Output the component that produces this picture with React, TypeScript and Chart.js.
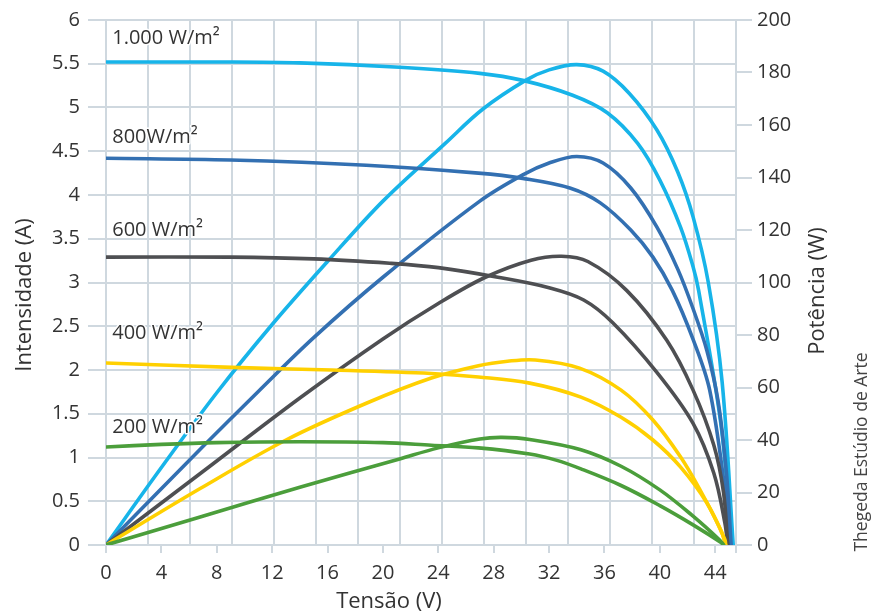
import React, { useEffect, useRef } from "react";
import { Chart, registerables } from "chart.js";

Chart.register(...registerables);

// ---- Data (V = tensão, A = intensidade, W = potência) ----
const xTicks = [0, 4, 8, 12, 16, 20, 24, 28, 32, 36, 40, 44];
const xMax = 45.5;
const ampMax = 6;
const ampStep = 0.5;
const wattMax = 200;
const wattStep = 20;
const gridColumns = 15;

// 1.000 W/m²
const v1000I = [0, 8, 14, 21.2, 27, 30.1, 33.7, 36.2, 38.4, 40.0, 41.5, 42.4, 42.8, 44.4, 45.2];
const a1000 = [5.52, 5.52, 5.51, 5.46, 5.39, 5.31, 5.14, 4.94, 4.59, 4.17, 3.63, 3.18, 2.91, 1.39, 0];
const v1000P = [0, 4, 8, 12, 16, 20, 24.5, 27.2, 30.3, 32, 34, 35.9, 37.8, 39.8, 41.3, 42.4, 43.5, 44.5, 45.3];
const w1000 = [0, 29.5, 58, 84, 108, 131, 153, 166, 177, 181, 183, 180.5, 172, 158, 142, 125, 100, 62, 0];

// 800 W/m²
const v800I = [0, 9, 18.8, 26.9, 30.1, 33.5, 35.7, 37.9, 39.5, 40.9, 42.4, 43.6, 44.7, 45.1];
const a800 = [4.42, 4.4, 4.34, 4.25, 4.19, 4.08, 3.91, 3.6, 3.29, 2.91, 2.35, 1.77, 0.63, 0];
const v800P = [0, 7, 11, 15, 20, 27, 30.1, 32, 34, 35.9, 37.9, 39.8, 41.3, 42.4, 43.4, 44.2, 44.8, 45.15];
const w800 = [0, 37.5, 58.5, 79, 102, 131, 141, 145.5, 148, 145.5, 136, 121, 105, 90, 74, 55, 28, 0];

// 600 W/m²
const v600I = [0, 9, 15, 20.5, 24, 28.3, 32, 34.5, 36.6, 39.8, 42.4, 43.9, 44.7, 44.9];
const a600 = [3.29, 3.29, 3.27, 3.22, 3.17, 3.06, 2.94, 2.8, 2.54, 1.97, 1.39, 0.82, 0.25, 0];
const v600P = [0, 7, 14, 20, 24, 27.4, 30.7, 32.9, 34.8, 37.6, 40.5, 42.4, 43.9, 44.6, 44.9];
const w600 = [0, 28, 56, 78.5, 92, 102, 108.5, 110, 108, 97, 78, 59, 38, 20, 0];

// 400 W/m²
const v400I = [0, 9.1, 16.3, 23.5, 26.9, 30.6, 34.3, 37.2, 39.5, 41.5, 43.4, 44.7, 44.75];
const a400 = [2.08, 2.03, 2.0, 1.96, 1.92, 1.85, 1.69, 1.46, 1.2, 0.89, 0.48, 0.06, 0];
const v400P = [0, 6.8, 13, 18.8, 23.5, 26.9, 29, 31, 34.2, 37.2, 39.5, 41.5, 42.9, 44.4, 44.75];
const w400 = [0, 21.5, 40, 54, 63.6, 68.3, 70, 70.5, 67.4, 59, 47.6, 33.5, 21, 5.7, 0];

// 200 W/m²
const v200I = [0, 4, 8, 14, 20, 23.5, 26.9, 30.6, 32.5, 34.3, 37.2, 40, 42.4, 44.5, 44.6];
const a200 = [1.12, 1.15, 1.17, 1.18, 1.17, 1.14, 1.11, 1.04, 0.97, 0.87, 0.68, 0.45, 0.23, 0.02, 0];
const v200P = [0, 6.8, 14, 21.2, 24, 27, 28.6, 30.6, 34.3, 37.2, 40, 42.4, 44.3, 44.6];
const w200 = [0, 10.7, 22, 32.8, 37, 40.4, 41, 40.2, 36.3, 30, 21, 11, 2, 0];

// Curve labels
const curveLabels = ["1.000 W/m²", "800W/m²", "600 W/m²", "400 W/m²", "200 W/m²"];
const labelAmps = [5.79, 4.66, 3.6, 2.42, 1.35];
const labelVolt = 0.45;

const colors = {
  c1000: "#17b4e9",
  c800: "#3370b2",
  c600: "#4e4f52",
  c400: "#ffd000",
  c200: "#4b9e3b",
};
const gridColor = "#cfd8df";
const textColor = "#333333";
const FONT = "'Open Sans', 'Noto Sans', sans-serif";

function pts(xs: number[], ys: number[]) {
  return xs.map((x, i) => ({ x, y: ys[i] }));
}

function line(label: string, xs: number[], ys: number[], color: string, axis: string) {
  return {
    label,
    data: pts(xs, ys),
    borderColor: color,
    backgroundColor: color,
    borderWidth: 3.6,
    pointRadius: 0,
    fill: false,
    tension: 0.35,
    borderCapStyle: "round",
    borderJoinStyle: "round",
    yAxisID: axis,
    xAxisID: "x",
  };
}

const textPlugin = {
  id: "texts",
  afterDatasetsDraw(chart: any) {
    const ctx = chart.ctx as CanvasRenderingContext2D;
    const xs = chart.scales.x;
    const ys = chart.scales.y;
    ctx.save();
    ctx.font = `20px ${FONT}`;
    ctx.fillStyle = textColor;
    ctx.textBaseline = "middle";
    ctx.textAlign = "left";
    ctx.strokeStyle = "#ffffff";
    ctx.lineWidth = 3;
    ctx.lineJoin = "round";
    curveLabels.forEach((t, i) => {
      const px = xs.getPixelForValue(labelVolt);
      const py = ys.getPixelForValue(labelAmps[i]);
      ctx.strokeText(t, px, py);
      ctx.fillText(t, px, py);
    });

    const rotated = (t: string, x: number, y: number, font: string, color: string) => {
      ctx.save();
      ctx.translate(x, y);
      ctx.rotate(-Math.PI / 2);
      ctx.font = font;
      ctx.fillStyle = color;
      ctx.textAlign = "center";
      ctx.textBaseline = "middle";
      ctx.fillText(t, 0, 0);
      ctx.restore();
    };
    rotated("Intensidade (A)", 25, 295, `22px ${FONT}`, textColor);
    rotated("Potência (W)", 818, 291, `22px ${FONT}`, textColor);
    rotated("Thegeda Estúdio de Arte", 862, 452, `17.5px ${FONT}`, "#444444");

    ctx.font = `22px ${FONT}`;
    ctx.fillStyle = textColor;
    ctx.textAlign = "center";
    ctx.textBaseline = "middle";
    ctx.fillText("Tensão (V)", 389, 602);
    ctx.restore();
  },
};

export default function App() {
  const ref = useRef<HTMLCanvasElement | null>(null);

  useEffect(() => {
    if (!ref.current) return;
    const tickFont = { family: FONT, size: 20 };
    const chart = new Chart(ref.current, {
      type: "line",
      data: {
        datasets: [
          line("200 I", v200I, a200, colors.c200, "y"),
          line("200 P", v200P, w200, colors.c200, "y1"),
          line("400 I", v400I, a400, colors.c400, "y"),
          line("400 P", v400P, w400, colors.c400, "y1"),
          line("600 I", v600I, a600, colors.c600, "y"),
          line("600 P", v600P, w600, colors.c600, "y1"),
          line("800 I", v800I, a800, colors.c800, "y"),
          line("800 P", v800P, w800, colors.c800, "y1"),
          line("1000 I", v1000I, a1000, colors.c1000, "y"),
          line("1000 P", v1000P, w1000, colors.c1000, "y1"),
        ] as any,
      },
      options: {
        animation: false,
        responsive: true,
        maintainAspectRatio: false,
        layout: { padding: { top: 20, left: 0, right: 0, bottom: 0 } },
        plugins: {
          legend: { display: false },
          tooltip: { enabled: false },
        },
        scales: {
          x: {
            type: "linear",
            position: "bottom",
            min: 0,
            max: xMax,
            border: { display: false },
            grid: {
              drawOnChartArea: false,
              drawTicks: true,
              tickLength: 8,
              color: gridColor,
              lineWidth: 2,
            },
            afterBuildTicks: (s: any) => {
              s.ticks = [...xTicks, xMax].map((v) => ({ value: v }));
            },
            ticks: {
              font: tickFont,
              color: textColor,
              padding: 8,
              maxRotation: 0,
              autoSkip: false,
              callback: (v: any) => (xTicks.includes(Number(v)) ? String(v) : ""),
            },
            afterFit: (s: any) => {
              s.height = 70;
            },
          },
          xg: {
            type: "linear",
            position: "bottom",
            min: 0,
            max: gridColumns,
            border: { display: false },
            grid: { color: gridColor, lineWidth: 2, drawTicks: false },
            ticks: { stepSize: 1, display: false },
            afterFit: (s: any) => {
              s.height = 0;
            },
          },
          y: {
            type: "linear",
            position: "left",
            min: 0,
            max: ampMax,
            border: { display: false },
            grid: { color: gridColor, lineWidth: 2, tickLength: 18 },
            ticks: {
              stepSize: ampStep,
              font: tickFont,
              color: textColor,
              padding: 8,
              callback: (v: any) => String(Number(v)),
            },
            afterFit: (s: any) => {
              s.width = 106;
            },
          },
          y1: {
            type: "linear",
            position: "right",
            min: 0,
            max: wattMax,
            border: { display: false },
            grid: { drawOnChartArea: false, color: gridColor, lineWidth: 2, tickLength: 16 },
            ticks: { stepSize: wattStep, font: tickFont, color: textColor, padding: 5 },
            afterFit: (s: any) => {
              s.width = 138;
            },
          },
        },
      } as any,
      plugins: [textPlugin],
    });
    return () => chart.destroy();
  }, []);

  return (
    <div
      style={{
        position: "fixed",
        left: 0,
        top: 0,
        width: 874,
        height: 615,
        background: "#ffffff",
      }}
    >
      <canvas ref={ref} />
    </div>
  );
}
